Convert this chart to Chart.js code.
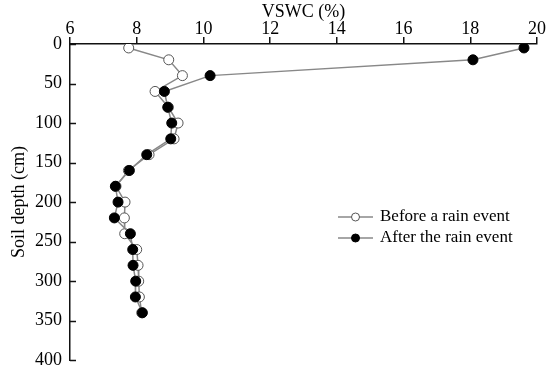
<!DOCTYPE html>
<html>
<head>
<meta charset="utf-8">
<script src="https://cdn.jsdelivr.net/npm/chart.js@4/dist/chart.umd.min.js"></script>
<style>
    html, body { margin: 0; padding: 0; background: #fff; }
    #wrap { width: 550px; height: 379px; }
</style>
</head>
<body>
<div id="wrap"><canvas id="GC1" width="550" height="379"></canvas></div>
<script>
// profundidades de muestreo (cm)
var depths = [5, 20, 40, 60, 80, 100, 120, 140, 160, 180, 200, 220, 240, 260, 280, 300, 320, 340];
// VSWC (%) antes y despues de la lluvia
var before = [7.76, 8.96, 9.37, 8.55, 8.95, 9.24, 9.12, 8.37, 7.75, 7.38, 7.65, 7.63, 7.64, 8.0, 8.04, 8.06, 8.08, 8.15];
var after = [19.61, 18.08, 10.2, 8.83, 8.93, 9.05, 9.02, 8.3, 7.78, 7.36, 7.44, 7.33, 7.81, 7.88, 7.89, 7.97, 7.96, 8.17];
var seriesLabels = ["Before a rain event", "After the rain event"];
var xTitle = "VSWC (%)";
var yTitle = "Soil depth (cm)";

var FONT = "'Liberation Serif', 'Times New Roman', serif";

function puntos(xs) {
    return xs.map(function (v, i) { return { x: v, y: depths[i] }; });
}

// ticks hacia adentro en el eje y + leyenda
var extras = {
    id: 'extras',
    afterDraw: function (chart) {
        var ctx = chart.ctx;
        var ys = chart.scales.y;
        ctx.save();
        ctx.strokeStyle = "#111";
        ctx.lineWidth = 1.5;
        ys.ticks.forEach(function (t) {
            var py = Math.round(ys.getPixelForValue(t.value)) + 0.5;
            ctx.beginPath();
            ctx.moveTo(ys.right, py);
            ctx.lineTo(ys.right + 6, py);
            ctx.stroke();
        });
        // leyenda
        var filas = [217, 238];
        chart.data.datasets.forEach(function (ds, i) {
            var y = filas[i];
            ctx.strokeStyle = "#888";
            ctx.lineWidth = 1.4;
            ctx.beginPath();
            ctx.moveTo(338, y);
            ctx.lineTo(373, y);
            ctx.stroke();
            ctx.beginPath();
            ctx.arc(355.5, y, 4, 0, Math.PI * 2);
            ctx.fillStyle = ds.pointBackgroundColor;
            ctx.fill();
            ctx.strokeStyle = ds.pointBorderColor;
            ctx.lineWidth = 1;
            ctx.stroke();
            ctx.fillStyle = "#000";
            ctx.font = "17px " + FONT;
            ctx.textBaseline = "middle";
            ctx.textAlign = "left";
            ctx.fillText(ds.label, 380, y);
        });
        ctx.restore();
    }
};

new Chart(document.getElementById("GC1"), {
    type: 'scatter',
    data: {
        datasets: [{
            label: seriesLabels[0],
            data: puntos(before),
            order: 1,
            showLine: true,
            borderColor: "#888",
            borderWidth: 1.5,
            pointRadius: 5,
            pointBackgroundColor: "#fff",
            pointBorderColor: "#555",
            pointBorderWidth: 1
        }, {
            label: seriesLabels[1],
            data: puntos(after),
            order: 0,
            showLine: true,
            borderColor: "#888",
            borderWidth: 1.5,
            pointRadius: 5,
            pointBackgroundColor: "#000",
            pointBorderColor: "#000",
            pointBorderWidth: 1
        }]
    },
    options: {
        responsive: false,
        animation: false,
        layout: { padding: { left: 0, right: 13, top: 0, bottom: 9 } },
        plugins: {
            legend: { display: false },
            tooltip: { enabled: false }
        },
        scales: {
            x: {
                type: 'linear',
                position: 'top',
                min: 6,
                max: 20,
                afterFit: function (s) { s.height = 44; },
                ticks: {
                    stepSize: 2,
                    color: "#000",
                    padding: -3,
                    maxRotation: 0,
                    font: { family: FONT, size: 18 }
                },
                grid: {
                    drawOnChartArea: false,
                    drawTicks: true,
                    tickLength: 7,
                    color: "#111",
                    lineWidth: 1.5
                },
                border: { display: true, color: "#111", width: 1.5 },
                title: {
                    display: true,
                    text: xTitle,
                    color: "#000",
                    padding: { top: 3, bottom: 0 },
                    font: { family: FONT, size: 18, lineHeight: 1.0 }
                }
            },
            y: {
                type: 'linear',
                reverse: true,
                min: 0,
                max: 400,
                afterFit: function (s) { s.width = 70; },
                ticks: {
                    stepSize: 50,
                    color: "#000",
                    padding: 8,
                    font: { family: FONT, size: 18 }
                },
                grid: { display: false, drawTicks: false },
                border: { display: true, color: "#111", width: 1.5 },
                title: {
                    display: true,
                    text: yTitle,
                    color: "#000",
                    padding: { top: 8, bottom: 0 },
                    font: { family: FONT, size: 18 }
                }
            }
        }
    },
    plugins: [extras]
});
</script>
</body>
</html>
